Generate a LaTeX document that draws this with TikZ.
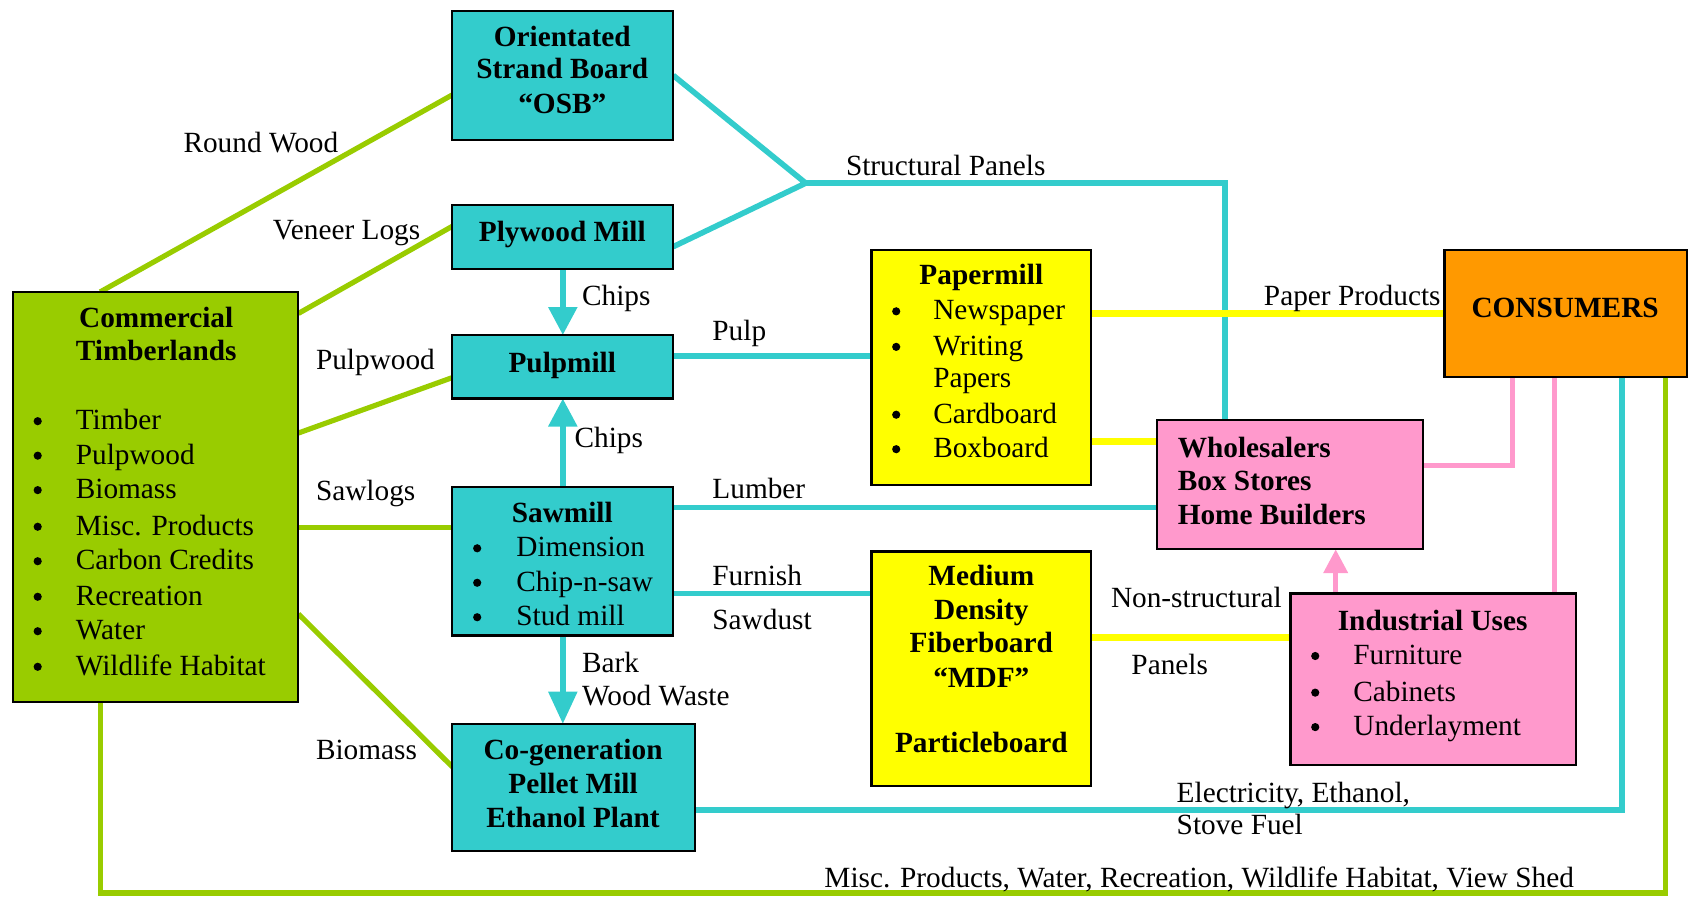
\documentclass[tikz,border=0pt]{standalone}
\usepackage{fontspec}
\setmainfont{Liberation Serif}
\usetikzlibrary{fit,calc,arrows.meta}
\definecolor{cy}{RGB}{51,204,204}
\definecolor{gr}{RGB}{153,204,0}
\definecolor{ye}{RGB}{255,255,0}
\definecolor{pk}{RGB}{255,153,204}
\definecolor{orng}{RGB}{255,153,0}
\pgfdeclarelayer{background}
\pgfsetlayers{background,main}
\begin{document}
\begin{tikzpicture}[x=0.5pt,y=-0.5pt,
  box/.style={draw=black, line width=1pt, inner sep=0pt, outer sep=0pt},
  txt/.style={inner sep=0pt, font=\fontsize{13.6}{16}\selectfont},
  bt/.style={inner sep=0pt, font=\fontsize{13.6}{16}\selectfont\bfseries},
  bul/.style={circle, fill=black, draw=none, inner sep=0pt, minimum size=3.8pt},
  cline/.style={draw=cy, line width=2.6pt},
  gline/.style={draw=gr, line width=2.4pt},
  yline/.style={draw=ye, line width=3pt},
  pline/.style={draw=pk, line width=2.2pt},
  bigtip/.style={-{Triangle[width=13pt,length=13pt]}},
]
\useasboundingbox (0,0) rectangle (1568,832);

% ---------- boxes ----------
\node[box, fill=cy, fit={(420,10) (625,130)}] (osb) {};
\node[box, fill=cy, fit={(420,190) (625,250)}] (ply) {};
\node[box, fill=cy, fit={(420,311) (625,370)}] (pulp) {};
\node[box, fill=cy, fit={(420,452) (625,590)}] (saw) {};
\node[box, fill=cy, fit={(420,672) (645,790)}] (cogen) {};
\node[box, fill=gr, fit={(12,271) (277,652)}] (tl) {};
\node[box, fill=ye, fit={(809,232) (1013,450)}] (paper) {};
\node[box, fill=ye, fit={(809,512) (1013,730)}] (mdf) {};
\node[box, fill=pk, fit={(1074,390) (1321,510)}] (whole) {};
\node[box, fill=pk, fit={(1198,551) (1463,710)}] (ind) {};
\node[box, fill=orng, fit={(1341,232) (1566,350)}] (cons) {};

% ---------- connectors ----------
\begin{pgfonlayer}{background}
% green
\draw[gline] ($(tl.north west)+(81,0)$) -- ($(osb.west)+(0,18)$);
\draw[gline] ($(tl.north east)+(0,20)$) -- ($(ply.west)+(0,-10)$);
\draw[gline] ($(tl.north east)+(0,131)$) -- ($(pulp.west)+(0,10)$);
\coordinate (sl) at ($(saw.west)+(0,-31)$);
\draw[gline] (sl) -- (sl -| tl.east);
\draw[gline] ($(tl.north east)+(0,299)$) -- ($(cogen.west)+(0,-19)$);
\draw[gline] ($(tl.south west)+(81,0)$) |- ($(cons.south east)+(-20,479)$) -- ($(cons.south east)+(-20,0)$);
% cyan
\coordinate (J) at (748,170);
\draw[cline] (osb.east) -- (J) -- ($(ply.east)+(0,9)$);
\draw[cline] (J) -| ($(whole.north west)+(63,0)$);
\draw[cline, bigtip] (ply.south) -- (pulp.north);
\draw[cline, bigtip] (saw.north) -- (pulp.south);
\coordinate (pp) at ($(pulp.east)+(0,-10)$);
\draw[cline] (pp) -- (pp -| paper.west);
\coordinate (lu) at ($(saw.east)+(0,-50)$);
\draw[cline] (lu) -- (lu -| whole.west);
\coordinate (fu) at ($(saw.east)+(0,30)$);
\draw[cline] (fu) -- (fu -| mdf.west);
\draw[cline, -{Triangle[width=13pt,length=15pt]}] (saw.south) -- (saw.south |- cogen.north);
\draw[cline] ($(cogen.east)+(0,21)$) -| ($(cons.south west)+(165,0)$);
% yellow
\draw[yline] (cons.west) -- (cons.west -| paper.east);
\coordinate (bx) at ($(whole.west)+(0,-40)$);
\draw[yline] (bx) -- (bx -| paper.east);
\coordinate (ns) at ($(ind.west)+(0,-38.5)$);
\draw[yline] (ns) -- (ns -| mdf.east);
% pink
\coordinate (pa) at ($(ind.north west)+(42,0)$);
\draw[pline, -{Triangle[width=11pt,length=11pt]}] (pa) -- (pa |- whole.south);
\draw[pline] ($(whole.east)+(0,-18)$) -| ($(cons.south west)+(63,0)$);
\coordinate (pb) at ($(ind.north west)+(245,0)$);
\draw[pline] (pb) -- (pb |- cons.south);
\end{pgfonlayer}

% ---------- box texts ----------
\node[bt, anchor=base] (o1) at (522,43) {Orientated};
\node[bt, anchor=base] (o2) at (522,73) {Strand Board};
\node[bt, anchor=base] (o3) at (522,105) {“OSB”};
\node[bt, anchor=base] (p1) at (522,224) {Plywood Mill};
\node[bt, anchor=base] (pm1) at (522,346) {Pulpmill};

\node[bt, anchor=base] (s0) at (522,485) {Sawmill};
\foreach \t/\y [count=\i] in {Dimension/517, Chip-n-saw/549, Stud mill/581}{
  \node[bul] (sb\i) at (443,\y-8) {};
  \node[txt, anchor=base west] (si\i) at (479,\y) {\t};
}

\node[bt, anchor=base] (c1) at (532,705) {Co-generation};
\node[bt, anchor=base] (c2) at (532,737) {Pellet Mill};
\node[bt, anchor=base] (c3) at (532,768) {Ethanol Plant};

\node[bt, anchor=base] (t1) at (145,304) {Commercial};
\node[bt, anchor=base] (t2) at (145,335) {Timberlands};
\foreach \t/\y [count=\i] in {Timber/399, Pulpwood/431, Biomass/463, Misc. Products/497, Carbon Credits/529, Recreation/562, Water/594, Wildlife Habitat/627}{
  \node[bul] (tb\i) at (35,\y-8) {};
  \node[txt, anchor=base west] (ti\i) at (70,\y) {\t};
}

\node[bt, anchor=base] (pa0) at (911,264) {Papermill};
\foreach \t/\y [count=\i] in {Newspaper/297, Writing/330, Cardboard/393, Boxboard/425}{
  \node[bul] (pab\i) at (832,\y-8) {};
  \node[txt, anchor=base west] (pai\i) at (866,\y) {\t};
}
\node[txt, anchor=base west] (pa5) at (866,360) {Papers};

\node[bt, anchor=base] (m1) at (911,544) {Medium};
\node[bt, anchor=base] (m2) at (911,575) {Density};
\node[bt, anchor=base] (m3) at (911,606) {Fiberboard};
\node[bt, anchor=base] (m4) at (911,638) {“MDF”};
\node[bt, anchor=base] (m5) at (911,699) {Particleboard};

\node[bt, anchor=base west] (w1) at (1093,425) {Wholesalers};
\node[bt, anchor=base west] (w2) at (1093,455) {Box Stores};
\node[bt, anchor=base west] (w3) at (1093,487) {Home Builders};

\node[bt, anchor=base] (in0) at (1330,585) {Industrial Uses};
\foreach \t/\y [count=\i] in {Furniture/617, Cabinets/651, Underlayment/683}{
  \node[bul] (inb\i) at (1221,\y-8) {};
  \node[txt, anchor=base west] (ini\i) at (1256,\y) {\t};
}

\node[bt, anchor=base] (cn) at (1453,295) {CONSUMERS};

% ---------- connector labels ----------
\node[txt, anchor=base west] (l1) at (170,142) {Round Wood};
\node[txt, anchor=base west] (l2) at (253,222) {Veneer Logs};
\node[txt, anchor=base west] (l3) at (540,284) {Chips};
\node[txt, anchor=base west] (l4) at (293,343) {Pulpwood};
\node[txt, anchor=base west] (l5) at (661,316) {Pulp};
\node[txt, anchor=base west] (l6) at (785,163) {Structural Panels};
\node[txt, anchor=base west] (l7) at (1173,284) {Paper Products};
\node[txt, anchor=base west] (l8) at (533,415) {Chips};
\node[txt, anchor=base west] (l9) at (293,465) {Sawlogs};
\node[txt, anchor=base west] (l10) at (661,463) {Lumber};
\node[txt, anchor=base west] (l11) at (661,544) {Furnish};
\node[txt, anchor=base west] (l12) at (661,584) {Sawdust};
\node[txt, anchor=base west] (l13) at (1031,564) {Non-structural};
\node[txt, anchor=base west] (l14) at (1050,626) {Panels};
\node[txt, anchor=base west] (l15) at (540,624) {Bark};
\node[txt, anchor=base west] (l16) at (540,655) {Wood Waste};
\node[txt, anchor=base west] (l17) at (293,705) {Biomass};
\node[txt, anchor=base west] (l18) at (1092,745) {Electricity, Ethanol,};
\node[txt, anchor=base west] (l19) at (1092,775) {Stove Fuel};
\node[txt, anchor=base west] (l20) at (765,824) {Misc. Products, Water, Recreation, Wildlife Habitat, View Shed};
\end{tikzpicture}
\end{document}
